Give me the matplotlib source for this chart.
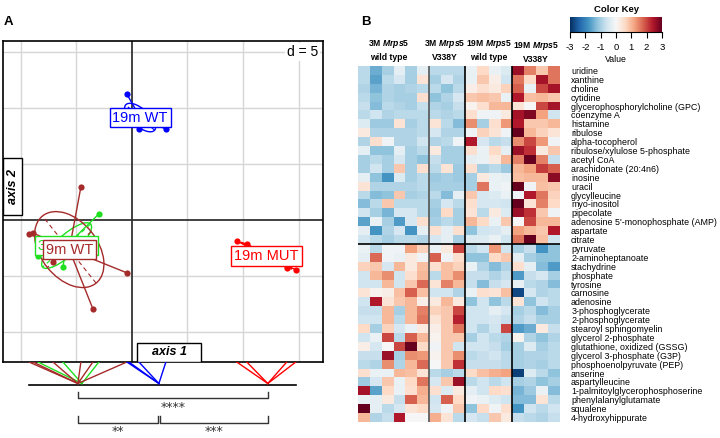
import numpy as np
import matplotlib
matplotlib.use('Agg')
import matplotlib.pyplot as plt
from matplotlib.patches import Ellipse, Rectangle
from matplotlib import font_manager

names = {f.name for f in font_manager.fontManager.ttflist}
narrow = 'Liberation Sans Narrow' if 'Liberation Sans Narrow' in names else 'Liberation Sans'
head_size = 8.0 if narrow == 'Liberation Sans Narrow' else 6.2

plt.rcParams['font.family'] = ['Liberation Sans', 'DejaVu Sans']
plt.rcParams['mathtext.fontset'] = 'custom'
plt.rcParams['mathtext.it'] = narrow + ':italic:bold'
plt.rcParams['mathtext.rm'] = narrow + ':bold'

# ---- panel A: class scores on axis 1 / axis 2 ----
class_names = ['3m MUT', '9m WT', '19m WT', '19m MUT']
class_colors = ['#1fe01f', '#a52a2a', '#0000ff', '#ff0000']
x_3m_mut = [-2.97, -8.45, -6.21]
y_3m_mut = [0.54, -3.21, -4.20]
x_9m_wt = [-4.59, -9.26, -8.90, -7.10, -0.45, -3.51]
y_9m_wt = [2.95, -1.25, -1.16, -3.75, -4.73, -7.95]
x_19m_wt = [-0.45, 0.63, 3.06, -0.27]
y_19m_wt = [11.25, 8.13, 8.13, 9.11]
x_19m_mut = [9.44, 10.34, 13.94, 14.75]
y_19m_mut = [-1.88, -2.14, -4.29, -4.46]
# group positions on the 1-D axis-1 strip
axis1_centers = [-4.50, -4.86, 2.43, 12.23]

# ---- panel B: heatmap ----
group_labels = ['3M $Mrps5$\nwild type', '3M $Mrps5$\nV338Y',
                '19M $Mrps5$\nwild type', '19M $Mrps5$\nV338Y']
group_sizes = [6, 3, 4, 4]
metabolites_up = ['uridine', 'xanthine', 'choline', 'cytidine',
                  'glycerophosphorylcholine (GPC)', 'coenzyme A', 'histamine',
                  'ribulose', 'alpha-tocopherol', 'ribulose/xylulose 5-phosphate',
                  'acetyl CoA', 'arachidonate (20:4n6)', 'inosine', 'uracil',
                  'glycylleucine', 'myo-inositol', 'pipecolate',
                  "adenosine 5'-monophosphate (AMP)", 'aspartate', 'citrate']
metabolites_down = ['pyruvate', '2-aminoheptanoate', 'stachydrine', 'phosphate',
                    'tyrosine', 'carnosine', 'adenosine', '3-phosphoglycerate',
                    '2-phosphoglycerate', 'stearoyl sphingomyelin',
                    'glycerol 2-phosphate', 'glutathione, oxidized (GSSG)',
                    'glycerol 3-phosphate (G3P)', 'phosphoenolpyruvate (PEP)',
                    'anserine', 'aspartylleucine', '1-palmitoylglycerophosphoserine',
                    'phenylalanylglutamate', 'squalene', '4-hydroxyhippurate']
z_up = [
    [-0.8, -1.5, -1.0, -0.3, -1.0, -0.3, -0.8, -0.8, -0.8, -0.2, 0.6, -0.2, -0.4, 2.6, 1.5, 0.8, 1.6],
    [-0.8, -1.6, -0.8, -0.5, -1.0, 0.4, -1.0, -0.5, -0.9, -0.2, 0.8, 0.2, -0.6, 1.6, 0.6, 2.5, 1.6],
    [-0.9, -1.4, -0.9, -1.0, -0.9, -0.8, -0.8, -1.2, -0.8, 0.2, 0.5, 0.3, 0.7, 1.8, -0.2, 2.0, 2.5],
    [-0.8, -1.2, -0.9, -1.0, -1.0, 0.5, -1.2, -0.9, -0.5, 0.8, 0.9, 0.8, -0.2, 2.4, 0.9, 1.0, 0.8],
    [-0.7, -1.3, -0.8, -0.9, -1.0, -0.7, -0.9, -1.0, -0.7, 0.1, 0.5, 1.0, 1.0, 0.4, 0.0, 2.0, 2.5],
    [-0.8, -0.6, -0.9, -0.8, -0.8, -0.8, -0.8, -0.9, -0.8, 0.5, -0.1, -0.1, 0.3, 2.5, 2.8, 1.2, -0.6],
    [-0.4, -1.1, -1.1, 0.4, -1.0, -0.8, 0.4, -0.8, -1.3, 1.4, -1.0, 0.5, 1.3, 2.4, 0.8, 0.8, 1.0],
    [0.3, -0.9, -0.9, -0.9, -0.9, -0.8, -0.5, -0.9, -0.9, -0.1, 0.7, 0.4, -0.1, 3.0, 1.0, 0.7, 0.4],
    [-0.9, 0.5, -0.1, -0.9, -0.9, -0.6, -0.9, -0.8, -0.1, 2.4, -0.5, -0.8, -0.7, 1.4, 2.0, 1.3, -0.1],
    [-0.3, -1.2, -1.2, -0.3, -1.0, -0.8, 0.3, -1.0, -1.0, 0.5, -0.2, 0.6, -0.3, 2.6, 2.2, 0.3, 0.8],
    [-1.0, -0.8, -1.0, -0.5, -1.0, -1.2, -0.7, -1.0, -1.0, -0.3, -0.2, 0.3, 1.0, 1.5, 3.0, 1.5, -0.7],
    [-1.0, -0.6, -1.0, 0.8, -1.0, 0.5, -0.8, 0.4, -1.1, 0.5, -1.0, -0.8, -1.1, 1.0, 1.2, 2.1, 1.8],
    [-0.3, -1.2, -1.8, -0.4, -1.0, -0.8, -1.1, -1.0, -1.1, -1.0, 0.3, -0.2, -0.3, 0.9, 1.0, 1.0, 2.7],
    [0.4, -0.9, -0.9, -0.9, -0.9, -0.8, -1.0, -1.0, -1.0, -1.0, 1.6, -0.2, -0.1, 3.0, -0.1, 0.9, 0.8],
    [-0.8, -1.3, -1.2, 0.8, -1.0, -0.9, -0.8, -1.3, -0.3, 0.8, -0.5, -0.4, -0.2, -0.1, 2.4, 1.6, 0.7],
    [-1.3, -0.8, 0.8, -0.8, -0.8, -0.8, -1.0, -0.5, -0.8, 0.5, -0.5, -0.5, -0.6, 3.0, 0.4, 1.5, 0.6],
    [-0.6, -1.0, -1.4, -0.5, -0.5, -0.8, -1.1, 0.6, -1.0, 0.4, -0.8, 0.3, -0.4, 2.6, 2.2, 0.8, -0.1],
    [-1.6, -0.2, -1.0, -1.7, -0.5, 0.5, -1.0, -0.8, -1.0, 1.0, 0.6, -0.2, 0.8, 0.0, 2.0, 1.0, 1.0],
    [-0.3, -1.8, -0.9, -0.5, -1.8, -0.3, 0.5, -0.3, 0.5, -1.2, -0.6, -0.5, -0.3, 1.2, 1.0, 0.8, 2.4],
    [-0.6, -0.8, -1.0, -0.8, -0.8, -0.9, -0.5, -0.3, -1.0, -0.4, -0.4, -0.2, -0.6, 1.6, 3.0, 0.9, -0.6],
]
z_down = [
    [-0.2, -0.8, -0.1, -0.1, 1.2, 0.7, -0.2, 0.3, 2.0, -0.8, -0.6, 1.3, -0.6, -1.0, -0.7, -1.8, -1.2],
    [-0.3, 1.7, -0.1, -0.2, 0.3, -0.1, 1.8, -0.1, 0.5, -1.2, -1.2, 0.6, 0.8, -0.3, -1.0, -1.2, -1.2],
    [0.7, 0.8, -0.5, 1.0, 0.3, 0.9, 0.5, 0.9, 0.7, -0.2, -0.9, -1.3, -0.9, 0.5, -0.3, -1.3, -1.7],
    [-0.6, 1.0, 1.4, -0.6, 0.5, 1.0, -0.8, 0.9, 1.4, -0.7, -0.7, -0.9, -0.7, -1.7, -0.7, -0.5, -1.0],
    [-0.6, -0.6, 1.0, -0.6, 0.8, 1.7, 0.4, 1.5, 1.0, -0.7, -1.3, -0.7, -0.5, -0.2, -0.8, -0.9, -1.3],
    [0.4, 0.1, 0.2, 0.9, 1.8, 0.9, -0.6, -0.6, -0.9, -0.2, 0.5, 0.4, 0.9, -2.7, -0.5, -0.9, -0.8],
    [-0.6, 2.4, 0.4, 0.8, 1.0, 0.2, 0.3, 1.0, 0.3, -1.2, -0.6, -1.2, -0.8, 0.4, -1.2, -0.6, -0.8],
    [-0.7, -0.7, 1.0, -1.0, 1.0, 1.5, 0.7, 0.8, 2.0, -0.6, -0.6, -0.3, -0.5, -1.0, -0.8, -1.3, -1.0],
    [-0.6, -0.6, 1.0, -0.8, 1.0, 1.6, 0.4, 0.8, 2.3, -0.6, -0.6, -0.5, -0.7, -0.9, -0.7, -1.0, -1.0],
    [0.6, -1.0, 0.7, -0.5, -0.2, 0.3, 0.2, 0.8, 1.6, -0.6, -0.9, -0.6, 2.0, -1.7, -1.5, 0.3, -0.7],
    [-0.6, -0.2, 2.0, -0.8, 1.8, 1.0, 0.1, 0.8, 0.8, -1.0, -0.6, -0.8, -0.9, 0.1, -0.9, -1.2, -0.9],
    [0.2, -0.5, 0.0, 2.0, 3.0, 0.6, -0.1, 0.8, -0.6, -0.6, -0.6, -0.7, -1.0, -1.0, -0.4, -1.0, -0.8],
    [-0.7, -0.7, 2.6, -1.0, 1.4, 1.3, 0.1, 0.8, 1.4, -0.8, -0.7, -0.6, -0.8, -1.0, -0.9, -0.9, -0.8],
    [-0.8, -0.9, 1.4, -0.9, 1.0, 1.7, 0.0, 0.8, 2.2, -0.7, -0.7, -0.7, -0.8, -1.0, -0.9, -1.0, -0.8],
    [0.5, -0.2, -0.2, 1.0, 0.9, 0.4, -0.8, -1.0, -0.8, 0.6, 0.9, 1.1, 1.2, -2.8, -0.4, -0.8, -1.2],
    [-1.1, -0.5, 0.8, -0.2, 0.6, 1.6, -0.5, 0.8, 2.6, -0.8, -0.6, -0.8, -0.6, -1.0, -0.9, -1.2, -1.0],
    [2.5, -1.6, 0.6, -0.2, 0.5, 1.1, 0.5, -0.4, 0.3, -0.3, -0.6, 0.6, 0.5, -1.4, -1.1, -0.2, -1.3],
    [-0.2, -0.3, 0.3, -0.7, 1.8, 1.0, -0.6, 1.8, 0.6, -0.1, -0.2, -0.4, -0.6, -1.3, -1.3, 0.4, -0.8],
    [3.0, -0.3, -0.8, -0.5, 0.4, 0.6, -0.5, -0.1, 0.8, -1.2, 0.6, -0.1, 0.5, -1.8, -0.6, -0.8, -0.6],
    [1.0, -0.9, -0.7, 2.4, 0.0, 0.0, 1.1, 0.4, -0.8, -0.5, -0.7, 0.8, 0.3, -0.7, -0.8, -0.9, -0.7],
]
key_ticks = [-3, -2, -1, 0, 1, 2, 3]

W, H = 720, 438
fig = plt.figure(figsize=(W / 100, H / 100), dpi=100)


def fx(px):
    return px / W


def fy(py):
    return 1 - py / H


fig.text(fx(4), fy(22), 'A', fontsize=9.5, fontweight='bold', va='center')
fig.text(fx(361), fy(22), 'B', fontsize=9.5, fontweight='bold', va='center')

# ---------------- panel A ----------------
ax = fig.add_axes([fx(3), fy(362), fx(320), 321 / H])
ax.set_xlim(-11.6, 17.2)
ax.set_ylim(-12.7, 16.0)
d = 5
for v in np.arange(-10, 20, d):
    if v != 0:
        ax.axvline(v, color='#d6d6d6', lw=1, zorder=0)
        ax.axhline(v, color='#d6d6d6', lw=1, zorder=0)
ax.axhline(0, color='#333333', lw=1.3, zorder=1)
ax.axvline(0, color='#333333', lw=1.3, zorder=1)
ax.set_xticks([])
ax.set_yticks([])
for s in ax.spines.values():
    s.set_linewidth(1.2)

ylo, yhi = ax.get_ylim()
ax.text(0.985, (15 - ylo) / (yhi - ylo), 'd = 5',
        transform=ax.transAxes, ha='right', va='center', fontsize=10,
        bbox=dict(boxstyle='square,pad=0.15', fc='white', ec='none'), zorder=4)

xs_all = [x_3m_mut, x_9m_wt, x_19m_wt, x_19m_mut]
ys_all = [y_3m_mut, y_9m_wt, y_19m_wt, y_19m_mut]
for i, (xs, ys) in enumerate(zip(xs_all, ys_all)):
    xs, ys = np.array(xs), np.array(ys)
    col = class_colors[i]
    cx, cy = xs.mean(), ys.mean()
    cov = np.cov(xs, ys, bias=True)
    vals, vecs = np.linalg.eigh(cov)
    r = np.sqrt(np.clip(vals, 0, None))
    ang = np.degrees(np.arctan2(vecs[1, 1], vecs[0, 1]))
    ax.add_patch(Ellipse((cx, cy), 2 * r[1], 2 * r[0], angle=ang, fill=False,
                         ec=col, lw=1, zorder=2))
    for k in range(2):
        vx, vy = vecs[0, k] * r[k], vecs[1, k] * r[k]
        ax.plot([cx - vx, cx + vx], [cy - vy, cy + vy], color=col, lw=0.8,
                ls=(0, (4, 3)), zorder=2)
    for x, y in zip(xs, ys):
        ax.plot([cx, x], [cy, y], color=col, lw=1, zorder=3)
    ax.scatter(xs, ys, s=20, color=col, zorder=3, linewidths=0)
    ax.text(cx, cy, class_names[i], ha='center', va='center', color=col,
            fontsize=10.5, zorder=5 + i,
            bbox=dict(boxstyle='square,pad=0.2', fc='white', ec=col, lw=1))

ax.add_patch(Rectangle((0.419, 0.0), 0.2, 0.059, transform=ax.transAxes,
                       fc='white', ec='black', lw=1, zorder=10))
ax.text(0.519, 0.03, 'axis 1', transform=ax.transAxes, ha='center', va='center',
        fontsize=9, fontweight='bold', fontstyle='italic', zorder=11)
ax.add_patch(Rectangle((0.0, 0.458), 0.059, 0.178, transform=ax.transAxes,
                       fc='white', ec='black', lw=1, zorder=10))
ax.text(0.03, 0.547, 'axis 2', transform=ax.transAxes, ha='center', va='center',
        rotation=90, fontsize=9, fontweight='bold', fontstyle='italic', zorder=11)

# 1-D strip of axis-1 scores with significance brackets
bx = fig.add_axes([fx(3), 0, fx(320), 76 / H])
bx.set_xlim(ax.get_xlim())
bx.set_ylim(76, 0)
bx.axis('off')
all_x = np.concatenate([np.array(v) for v in xs_all])
bx.plot([all_x.min(), all_x.max()], [23, 23], color='black', lw=1.2)
for i, xs in enumerate(xs_all):
    for x in xs:
        bx.plot([x, axis1_centers[i]], [0, 21.5], color=class_colors[i], lw=1)

star_col = '#333333'


def bracket(x0, x1, ytop, ybot, ytext, label):
    bx.plot([x0, x0, x1, x1], [ytop, ybot, ybot, ytop], color=star_col, lw=1)
    bx.text((x0 + x1) / 2, ytext, label, ha='center', va='center', fontsize=9,
            color=star_col, family='DejaVu Sans')


c_brown, c_blue, c_red = axis1_centers[1], axis1_centers[2], axis1_centers[3]
bracket(c_brown, c_red, 30, 36, 46, '****')
bracket(c_brown, c_blue - 0.1, 54, 61, 70, '**')
bracket(c_blue + 0.1, c_red, 54, 61, 70, '***')

# ---------------- panel B ----------------
z = np.array(z_up + z_down)
hx = fig.add_axes([fx(358), fy(422), fx(202), 356 / H])
hx.imshow(z, cmap='RdBu_r', vmin=-3, vmax=3, aspect='auto', interpolation='nearest')
bounds = np.cumsum(group_sizes)[:-1] - 0.5
for j, b in enumerate(bounds):
    hx.axvline(b, color='#555555' if j == 0 else 'black', lw=1.2)
hx.axhline(len(z_up) - 0.5, color='black', lw=1.2)
for s in hx.spines.values():
    s.set_visible(False)
hx.set_xticks([])
hx.yaxis.tick_right()
hx.set_yticks(range(len(z)))
hx.set_yticklabels(metabolites_up + metabolites_down, fontsize=6.4)
hx.tick_params(axis='y', length=0, pad=8)

# group headers
header_x = [389, 445, 489, 536]
header_y = [50, 50, 50, 52]
for lab, gx, gy in zip(group_labels, header_x, header_y):
    fig.text(fx(gx), fy(gy), lab, ha='center', va='center', fontsize=head_size,
             fontweight='bold', family=narrow, linespacing=1.45)

# color key
cax = fig.add_axes([fx(570), fy(32), fx(92), 15 / H])
cax.imshow(np.linspace(-3, 3, 256)[None, :], cmap='RdBu_r', vmin=-3, vmax=3,
           extent=[-3, 3, 0, 1], aspect='auto')
cax.set_yticks([])
cax.set_xticks(key_ticks)
cax.set_xticklabels([str(t) for t in key_ticks], fontsize=6.8)
cax.tick_params(axis='x', length=4, width=0.8, pad=4)
for k in ['top', 'left', 'right']:
    cax.spines[k].set_visible(False)
cax.spines['bottom'].set_linewidth(0.8)
fig.text(fx(616), fy(9), 'Color Key', ha='center', va='center', fontsize=6.8,
         fontweight='bold')
fig.text(fx(616), fy(59), 'Value', ha='center', va='center', fontsize=6.3)

fig.savefig('out.png', dpi=100)
